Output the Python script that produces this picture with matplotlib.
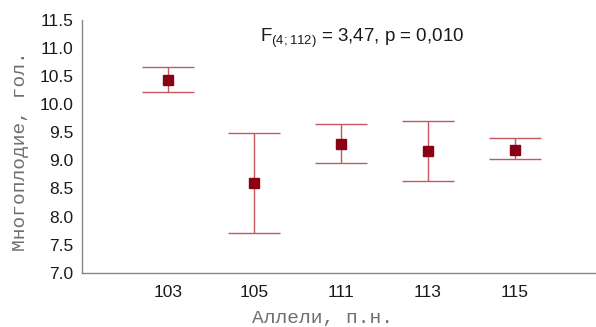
import numpy as np
import matplotlib
matplotlib.use("Agg")
import matplotlib.pyplot as plt

# values
alleles = ["103", "105", "111", "113", "115"]
means = [10.44, 8.60, 9.30, 9.16, 9.19]
upper = [10.67, 9.49, 9.65, 9.71, 9.39]
lower = [10.21, 7.70, 8.95, 8.64, 9.02]
yticks = [7.0, 7.5, 8.0, 8.5, 9.0, 9.5, 10.0, 10.5, 11.0, 11.5]

plt.rcParams['font.family'] = ['Liberation Sans', 'DejaVu Sans']
plt.rcParams['mathtext.fontset'] = 'custom'
plt.rcParams['mathtext.rm'] = 'Liberation Sans'
plt.rcParams['mathtext.it'] = 'Liberation Sans'

fig = plt.figure(figsize=(5.96, 3.27), dpi=100)
ax = fig.add_axes([82/596, (327-272.7)/327, 1 - 82/596, (272.7-20)/327])

x = np.arange(len(alleles))
m = np.array(means)
err = np.vstack([m - np.array(lower), np.array(upper) - m])

ax.errorbar(x, m, yerr=err, fmt='none', ecolor='#c4585c', elinewidth=1,
            capsize=19, capthick=1)
ax.plot(x, m, 's', color='#8a0014', markersize=7, zorder=3)

ax.set_xlim(-0.99, 4.94)
ax.set_ylim(7.0, 11.5)
ax.set_xticks(x)
ax.set_xticklabels(alleles)
ax.set_yticks(yticks)
ax.set_yticklabels(["%.1f" % v for v in yticks])
ax.tick_params(length=0, labelsize=12.5, colors='#1a1a1a', pad=6)
ax.tick_params(axis='x', pad=9)

for s in ['top', 'right']:
    ax.spines[s].set_visible(False)
for s in ['left', 'bottom']:
    ax.spines[s].set_color('#888888')
    ax.spines[s].set_linewidth(1)

ax.set_xlabel("Аллели, п.н.", family='Liberation Mono', fontsize=14,
              color='#707070', va='center')
ax.xaxis.set_label_coords(0.467, -0.18)
ax.set_ylabel("Многоплодие, гол.", family='Liberation Mono', fontsize=14,
              color='#707070', va='center')
ax.yaxis.set_label_coords(-0.12, 0.48)

fig.text(260/596, 1 - 38/327, r"F$_{(4;112)}$ = 3,47, p = 0,010",
         fontsize=13.5, color='#1a1a1a', ha='left', va='center')

fig.savefig("out.png", dpi=100)
